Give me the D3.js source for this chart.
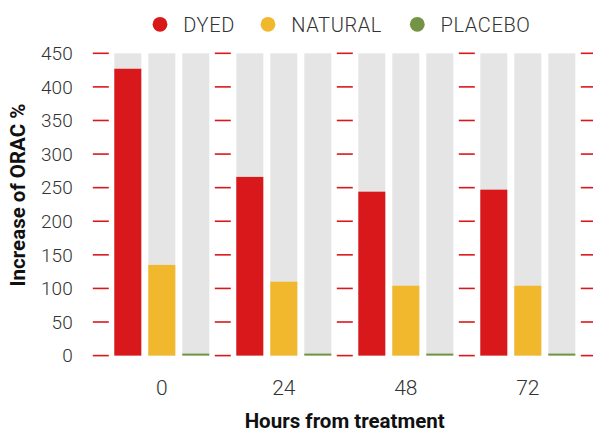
<!DOCTYPE html>
<html><head><meta charset="utf-8">
<script src="https://cdn.jsdelivr.net/npm/d3@7"></script>
<style>
html,body{margin:0;padding:0;background:#fff;}
svg{display:block;font-family:Roboto,"Noto Sans",sans-serif;}
</style></head>
<body><svg id="c" width="593" height="432"></svg>
<script>
const hours = ["0","24","48","72"];
const seriesNames = ["DYED","NATURAL","PLACEBO"];
const dyed = [427, 266, 244, 247];
const natural = [135, 110, 104, 104];
const placebo = [3, 3, 3, 3];
const yTicks = [0,50,100,150,200,250,300,350,400,450];
const colors = ["#d9181c","#f2b82d","#739445"];

const values = [dyed, natural, placebo];
const svg = d3.select("#c");

const x0 = d3.scaleBand().domain(hours).range([100.8, 588.8]).paddingInner(27/122).paddingOuter(13.5/122);
const x1 = d3.scaleBand().domain(seriesNames).range([0, x0.bandwidth()]).paddingInner(7/34).paddingOuter(0);
const y = d3.scaleLinear().domain([0,450]).range([355.6, 53.3]);

// tick marks at group boundaries
const bounds = hours.map(h => x0(h) - 13.5).concat([x0(hours[3]) + x0.bandwidth() + 13.5]);
const gt = svg.append("g");
bounds.forEach(bx => {
  gt.selectAll(null).data(yTicks).enter().append("line")
    .attr("x1", bx - 8).attr("x2", bx + 8)
    .attr("y1", d => y(d)).attr("y2", d => y(d))
    .attr("stroke", "#d9181c").attr("stroke-width", 1.6);
});

// bars
const g = svg.append("g");
hours.forEach((h, i) => {
  const gg = g.append("g").attr("transform", `translate(${x0(h)},0)`);
  gg.selectAll("rect.bg").data(seriesNames).enter().append("rect")
    .attr("class","bg")
    .attr("x", s => x1(s)).attr("width", x1.bandwidth())
    .attr("y", y(450)).attr("height", y(0) - y(450))
    .attr("fill", "#e5e5e5");
  gg.selectAll("rect.v").data(seriesNames).enter().append("rect")
    .attr("class","v")
    .attr("x", s => x1(s)).attr("width", x1.bandwidth())
    .attr("y", (s, j) => y(values[j][i])).attr("height", (s, j) => y(0) - y(values[j][i]))
    .attr("fill", (s, j) => colors[j]);
});

// y tick labels
svg.append("g").selectAll("text").data(yTicks).enter().append("text")
  .attr("x", 72.7).attr("y", d => y(d)).attr("dy", "0.355em")
  .attr("text-anchor", "end").attr("font-size", 19).attr("font-weight", 300)
  .attr("fill", "#333").text(d => d);

// x tick labels
svg.append("g").selectAll("text").data(hours).enter().append("text")
  .attr("x", h => x0(h) + x0.bandwidth()/2).attr("y", 395)
  .attr("text-anchor", "middle").attr("font-size", 21).attr("font-weight", 300)
  .attr("fill", "#333").text(h => h);

// axis titles
svg.append("text").attr("x", 344.7).attr("y", 427.5).attr("text-anchor","middle")
  .attr("font-size", 20.5).attr("font-weight", 700).attr("fill", "#111")
  .text("Hours from treatment");
svg.append("text").attr("transform", "translate(25,195) rotate(-90)").attr("text-anchor","middle")
  .attr("font-size", 20.5).attr("font-weight", 700).attr("fill", "#111")
  .text("Increase of ORAC %");

// legend
const legendX = [160, 268, 417.3];
const lg = svg.append("g");
seriesNames.forEach((s, j) => {
  lg.append("circle").attr("cx", legendX[j]).attr("cy", 24.3).attr("r", 7.4).attr("fill", colors[j]);
  lg.append("text").attr("x", legendX[j] + 23.3).attr("y", 32.3)
    .attr("font-size", 20).attr("font-weight", 300).attr("fill", "#333")
    .attr("letter-spacing", 0.6).text(s);
});
</script></body></html>
